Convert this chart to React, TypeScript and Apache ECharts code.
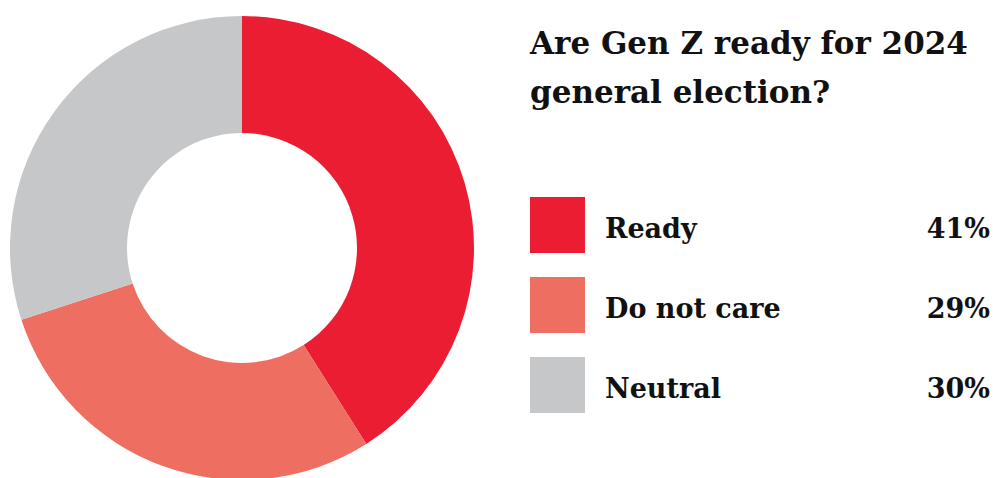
import React, { useEffect, useRef } from "react";
import * as echarts from "echarts";

const categories = ["Ready", "Do not care", "Neutral"];
const values = [41, 29, 30];
const colors = ["#EB1D32", "#EF6E62", "#C6C7C9"];
const titleLines = ["Are Gen Z ready for 2024", "general election?"];

const FONT = "'DejaVu Serif', 'Liberation Serif', serif";

export default function App() {
  const ref = useRef<HTMLDivElement>(null);
  useEffect(() => {
    if (!ref.current) return;
    const chart = echarts.init(ref.current, undefined, { renderer: "svg" });
    const data = categories.map((name, i) => ({
      name,
      value: values[i],
      itemStyle: { color: colors[i] },
    }));
    chart.setOption({
      animation: false,
      backgroundColor: "#ffffff",
      title: {
        text: titleLines.join("\n"),
        left: 525,
        top: 13,
        textStyle: {
          fontFamily: FONT,
          fontWeight: "bold",
          fontSize: 31,
          lineHeight: 49,
          color: "#111111",
        },
      },
      legend: {
        orient: "vertical",
        left: 525,
        top: 192,
        itemWidth: 55,
        itemHeight: 56,
        itemGap: 24,
        icon: "rect",
        selectedMode: false,
        data: categories,
        formatter: (name: string) => {
          const i = categories.indexOf(name);
          return `{n|${name}}{p|${values[i]}%}`;
        },
        textStyle: {
          rich: {
            n: {
              fontFamily: FONT,
              fontWeight: "bold",
              fontSize: 27,
              color: "#111111",
              width: 305,
              padding: [6, 0, 0, 15],
            },
            p: {
              fontFamily: FONT,
              fontWeight: "bold",
              fontSize: 27,
              color: "#111111",
              width: 80,
              align: "right",
              padding: [6, 0, 0, 0],
            },
          },
        },
      },
      series: [
        {
          type: "pie",
          center: [242, 248],
          radius: [115, 232],
          startAngle: 90,
          clockwise: true,
          label: { show: false },
          labelLine: { show: false },
          emphasis: { disabled: true },
          itemStyle: { borderWidth: 0 },
          data,
        },
      ],
    });
    return () => chart.dispose();
  }, []);
  return <div ref={ref} style={{ width: 994, height: 478, position: "absolute", left: 0, top: 0 }} />;
}
